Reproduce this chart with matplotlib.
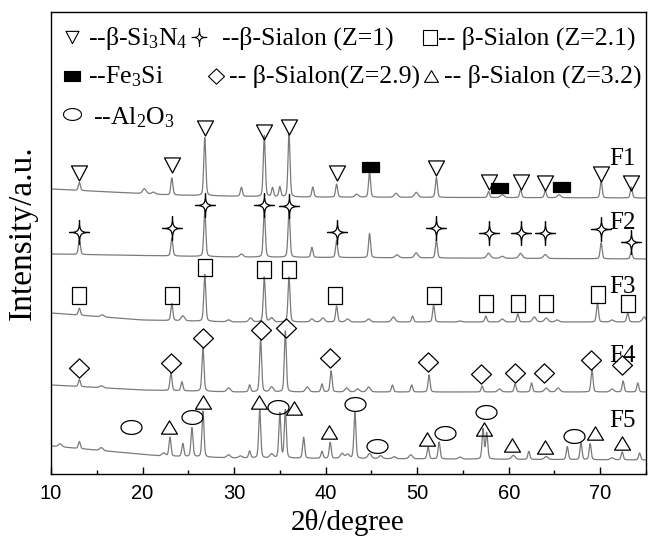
import numpy as np
import matplotlib
matplotlib.use("Agg")
import matplotlib.pyplot as plt
from matplotlib.path import Path
from matplotlib.markers import MarkerStyle

plt.rcParams['mathtext.fontset'] = 'custom'
plt.rcParams['mathtext.rm'] = 'Liberation Serif'
plt.rcParams['mathtext.it'] = 'Liberation Serif:italic'

SERIF = 'Liberation Serif'
SANS = 'Liberation Sans'

# ---------------- data: diffraction patterns (2theta in degrees, intensity in a.u.) ----
x_ticks = [10, 20, 30, 40, 50, 60, 70]
sample_names = ['F1', 'F2', 'F3', 'F4', 'F5']

# background levels (knots)
f1_bg_pos = [10, 23, 35, 75]
f1_bg_lvl = [285, 279, 277, 276]
f2_bg_pos = [10, 30, 75]
f2_bg_lvl = [220, 217, 215]
f3_bg_pos = [10, 20, 30, 75]
f3_bg_lvl = [161, 154, 152, 152]
f4_bg_pos = [10, 20, 30, 75]
f4_bg_lvl = [89, 84, 82, 82]
f5_bg_pos = [10, 22, 30, 75]
f5_bg_lvl = [28, 18, 16, 14]

# reflections: position and height above background
f1_peak_pos = [13.1, 20.2, 21.2, 23.2, 26.8, 30.8, 33.3, 34.2, 35.0, 36.0, 38.6, 41.2,
               43.4, 44.8, 47.7, 49.9, 52.1, 57.8, 59.3, 61.3, 64.0, 65.5, 70.1, 73.4]
f1_peak_hgt = [8, 5, 2, 17, 58, 9, 61, 9, 10, 63, 10, 13,
               3, 25, 4, 5, 20, 6, 3, 8, 7, 3, 17, 11]

f2_peak_pos = [13.1, 23.2, 26.8, 30.8, 33.3, 36.0, 38.5, 41.2, 44.8, 47.8, 49.9,
               52.1, 57.8, 59.3, 61.3, 64.0, 70.1, 73.4]
f2_peak_hgt = [15, 18, 46, 3, 47, 47, 10, 17, 24, 3, 5,
               18, 5, 2, 5, 4, 16, 7]

f3_peak_pos = [13.1, 15.6, 23.2, 24.4, 26.8, 29.4, 31.8, 33.3, 34.1, 36.0, 38.5, 39.7,
               41.2, 42.4, 44.7, 47.4, 49.5, 51.8, 54.7, 57.5, 59.3, 61.0, 62.8, 64.1,
               65.3, 69.7, 71.3, 73.0, 74.8]
f3_peak_hgt = [7, 2, 17, 5, 47, 2, 4, 45, 4, 45, 3, 4,
               16, 3, 3, 5, 6, 17, 1, 6, 3, 8, 5, 4,
               2, 19, 2, 9, 5]

f4_peak_pos = [13.1, 15.5, 23.1, 24.3, 26.6, 29.4, 31.7, 32.9, 34.1, 35.6, 38.0, 39.6,
               40.6, 42.3, 43.5, 44.7, 47.3, 49.4, 51.3, 57.1, 59.0, 60.7, 62.5, 64.1,
               65.4, 69.1, 71.3, 72.5, 74.1]
f4_peak_hgt = [7, 2, 18, 9, 44, 4, 7, 53, 5, 61, 5, 8,
               21, 4, 3, 5, 7, 7, 17, 6, 3, 8, 9, 4,
               4, 22, 3, 11, 9]

f5_peak_pos = [11.0, 13.1, 15.5, 22.3, 23.0, 24.4, 25.4, 26.6, 29.4, 30.7, 31.7, 32.8,
               34.1, 35.0, 35.6, 37.6, 39.6, 40.5, 41.8, 42.4, 43.2, 44.8, 46.0, 47.5,
               49.3, 51.2, 52.4, 54.7, 57.2, 57.6, 60.5, 62.2, 64.1, 66.4, 67.9, 68.9,
               71.3, 72.4, 74.3]
f5_peak_hgt = [3, 7, 3, 3, 19, 13, 29, 46, 3, 2, 7, 48,
               4, 45, 48, 21, 7, 16, 5, 4, 46, 5, 3, 2,
               4, 12, 17, 2, 30, 26, 4, 8, 3, 13, 17, 16,
               2, 8, 7]

# phase identification marks (position, height)
si3n4_pos = [13.1, 23.2, 26.8, 33.3, 36.0, 41.2, 52.1, 57.8, 61.3, 64.0, 70.1, 73.4]
si3n4_y = [301, 309, 346, 342, 347, 301, 306, 292, 292, 291, 300, 291]
fe3si_pos = [44.9, 58.9, 65.7]
fe3si_y = [307, 286, 287]
z1_pos = [13.1, 23.2, 26.8, 33.3, 36.0, 41.2, 52.1, 57.8, 61.3, 64.0, 70.1, 73.4]
z1_y = [242, 246, 269, 269, 268, 242, 246, 241, 241, 241, 245, 232]
z21_pos = [13.1, 23.2, 26.8, 33.3, 36.0, 41.0, 51.8, 57.5, 61.0, 64.1, 69.8, 73.0]
z21_y = [179, 179, 207, 205, 205, 179, 179, 171, 171, 171, 180, 171]
z29_pos = [13.1, 23.1, 26.6, 32.9, 35.7, 40.5, 51.2, 57.0, 60.7, 63.9, 69.0, 72.4]
z29_y = [106, 111, 136, 144, 146, 116, 112, 100, 101, 101, 114, 109]
z32_pos = [22.9, 26.6, 32.7, 36.5, 40.4, 51.1, 57.3, 60.4, 64.0, 69.4, 72.4]
z32_y = [47, 72, 72, 66, 42, 35, 45, 29, 27, 41, 31]
al2o3_pos = [18.7, 25.4, 34.8, 43.2, 45.6, 53.0, 57.5, 67.1]
al2o3_y = [47, 57, 67, 70, 28, 41, 62, 38]

legend_labels = [r'--β-Si$_3$N$_4$', '--β-Sialon (Z=1)', '-- β-Sialon (Z=2.1)',
                 r'--Fe$_3$Si', '-- β-Sialon(Z=2.9)', '-- β-Sialon (Z=3.2)',
                 r'--Al$_2$O$_3$']


# ---------------- marker shapes ----------------
def poly_marker(pts):
    pts = list(pts) + [pts[0]]
    codes = [Path.MOVETO] + [Path.LINETO] * (len(pts) - 2) + [Path.CLOSEPOLY]
    return MarkerStyle(Path(pts, codes))


def star_marker(yscale=1.2, k=0.14):
    tips = [(0, yscale), (1, 0), (0, -yscale), (-1, 0)]
    verts = [tips[0]]
    codes = [Path.MOVETO]
    for i in range(4):
        a = np.array(tips[i], float)
        b = np.array(tips[(i + 1) % 4], float)
        verts += [tuple(a * k), tuple(b * k), tuple(b)]
        codes += [Path.CURVE4] * 3
    verts.append(tips[0])
    codes.append(Path.CLOSEPOLY)
    return MarkerStyle(Path(verts, codes))


def ellipse_marker(a=1.0, b=0.66):
    t = np.linspace(0, 2 * np.pi, 60)
    return poly_marker(list(zip(a * np.cos(t), b * np.sin(t)))[:-1])


tri_down = poly_marker([(-0.53, 0.5), (0.53, 0.5), (0, -0.5)])
tri_up = poly_marker([(-0.6, -0.5), (0.6, -0.5), (0, 0.5)])
rect_open = poly_marker([(-0.44, -0.5), (0.44, -0.5), (0.44, 0.5), (-0.44, 0.5)])
rect_fill = poly_marker([(-0.5, -0.3), (0.5, -0.3), (0.5, 0.3), (-0.5, 0.3)])
diamond = poly_marker([(0, 0.5), (0.52, 0), (0, -0.5), (-0.52, 0)])
star = star_marker()
ellipse = ellipse_marker()

PX = 72 / 100  # points per pixel at 100 dpi


def profile(x, pos, hgt, bg_pos, bg_lvl):
    y = np.interp(x, bg_pos, bg_lvl)
    for p, h in zip(pos, hgt):
        fwhm = 0.26 if h >= 6 else 0.45
        g = np.exp(-4 * np.log(2) * ((x - p) / fwhm) ** 2)
        lo = 1.0 / (1.0 + ((x - p) / (fwhm / 2)) ** 2)
        y = y + h * (0.3 * lo + 0.7 * g)
    return y


W, H = 648, 541
fig = plt.figure(figsize=(W / 100, H / 100), dpi=100)
L, R, T, B = 51, 646, 12, 474
ax = fig.add_axes([L / W, 1 - B / H, (R - L) / W, (B - T) / H])

tt = np.arange(10, 75.001, 0.02)
traces = [
    (f1_peak_pos, f1_peak_hgt, f1_bg_pos, f1_bg_lvl),
    (f2_peak_pos, f2_peak_hgt, f2_bg_pos, f2_bg_lvl),
    (f3_peak_pos, f3_peak_hgt, f3_bg_pos, f3_bg_lvl),
    (f4_peak_pos, f4_peak_hgt, f4_bg_pos, f4_bg_lvl),
    (f5_peak_pos, f5_peak_hgt, f5_bg_pos, f5_bg_lvl),
]
for pos, hgt, bp, bl in traces:
    ax.plot(tt, profile(tt, pos, hgt, bp, bl), color='#7a7a7a', lw=0.9, zorder=2)

mk = dict(ls='none', mec='black', mfc='none', mew=0.9, zorder=3)
ax.plot(si3n4_pos, si3n4_y, marker=tri_down, ms=16 * PX, **mk)
ax.plot(fe3si_pos, fe3si_y, marker=rect_fill, ms=17 * PX, **{**mk, 'mfc': 'black'})
ax.plot(z1_pos, z1_y, marker=star, ms=24 * PX, **mk)
ax.plot(z21_pos, z21_y, marker=rect_open, ms=17 * PX, **mk)
ax.plot(z29_pos, z29_y, marker=diamond, ms=20 * PX, **mk)
ax.plot(z32_pos, z32_y, marker=tri_up, ms=16 * PX, **mk)
ax.plot(al2o3_pos, al2o3_y, marker=ellipse, ms=21 * PX, **mk)

ax.set_xlim(10, 75)
ax.set_ylim(0, B - T)
ax.set_yticks([])
ax.set_xticks(x_ticks)
ax.set_xticks(np.arange(15, 76, 10), minor=True)
ax.tick_params(axis='x', which='major', direction='in', length=5, width=1, pad=7,
               labelsize=14.5)
ax.tick_params(axis='x', which='minor', direction='in', length=3, width=1)
for lab in ax.get_xticklabels():
    lab.set_family(SANS)
for s in ax.spines.values():
    s.set_linewidth(1.0)


def axc(px, py):
    return ((px - L) / (R - L), (B - py) / (B - T))


# sample labels
label_px = [(609, 165), (609, 229), (609, 293), (609, 362), (609, 427)]
for name, (px, py) in zip(sample_names, label_px):
    ax.text(*axc(px, py), name, transform=ax.transAxes, family=SERIF, fontsize=18,
            ha='left', va='baseline')

# phase key
key = [
    (tri_down, 13, 'none', (72, 37), (88, 45)),
    (star, 18, 'none', (199, 37), (222, 45)),
    (rect_open, 15, 'none', (430, 37), (438, 45)),
    (rect_fill, 16, 'black', (72, 76), (88, 83)),
    (diamond, 16, 'none', (216, 76), (229, 83)),
    (tri_up, 14, 'none', (431, 76), (444, 83)),
    (ellipse, 18, 'none', (72, 114), (93, 124)),
]
for (m, sz, fc, mxy, txy), text in zip(key, legend_labels):
    ax.plot(*[[v] for v in axc(*mxy)], transform=ax.transAxes, marker=m, ms=sz * PX,
            ls='none', mec='black', mfc=fc, mew=0.8, clip_on=False, zorder=4)
    ax.text(*axc(*txy), text, transform=ax.transAxes, family=SERIF, fontsize=18.5,
            ha='left', va='baseline')

fig.text(348 / W, 1 - 523 / H, '2θ/degree', family=SERIF, fontsize=21,
         ha='center', va='center')
fig.text(23 / W, 1 - 233 / H, 'Intensity/a.u.', family=SERIF, fontsize=24,
         rotation=90, ha='center', va='center')

fig.savefig('out.png', dpi=100)
